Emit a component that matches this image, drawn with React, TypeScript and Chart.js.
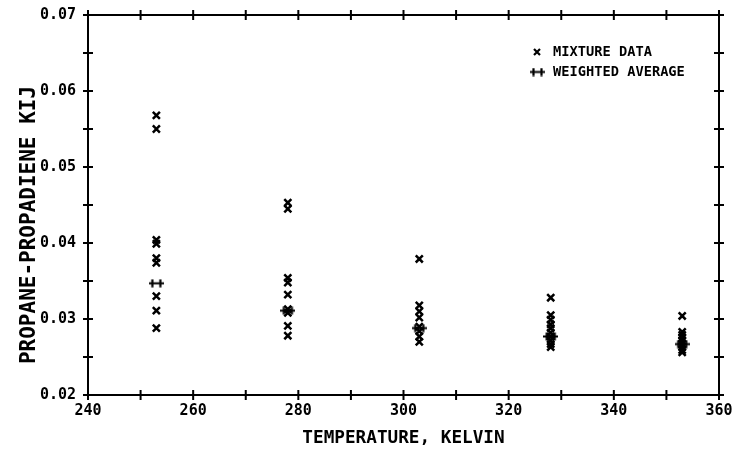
import React, { useEffect, useRef } from "react";
import { Chart, registerables } from "chart.js";

Chart.register(...registerables);

// Temperatures (K) at which the data were taken
const temperatures = [253, 278, 303, 328, 353];

// Mixture-data Kij values for each temperature
const mix253 = [0.0568, 0.055, 0.0404, 0.0399, 0.038, 0.0374, 0.033, 0.0311, 0.0288];
const mix278 = [0.0453, 0.0445, 0.0354, 0.0348, 0.0332, 0.0313, 0.0308, 0.0291, 0.0278];
const mix303 = [0.0379, 0.0318, 0.031, 0.0302, 0.029, 0.0284, 0.0277, 0.027];
const mix328 = [0.0328, 0.0305, 0.0299, 0.0293, 0.0288, 0.0282, 0.0277, 0.0272, 0.0267, 0.0263];
const mix353 = [0.0304, 0.0283, 0.0279, 0.0275, 0.0271, 0.0267, 0.0263, 0.0259, 0.0256];

// Weighted average Kij at each temperature
const weightedAverage = [0.0347, 0.0311, 0.0288, 0.0277, 0.0267];

const xTicks = [240, 260, 280, 300, 320, 340, 360];
const yTicks = [0.02, 0.03, 0.04, 0.05, 0.06, 0.07];

const legendLabels = ["MIXTURE DATA", "WEIGHTED AVERAGE"];
const xTitle = "TEMPERATURE, KELVIN";
const yTitle = "PROPANE-PROPADIENE KIJ";

const FONT = "'DejaVu Sans Mono', monospace";

function makeAvgMarker(): HTMLCanvasElement {
  const c = document.createElement("canvas");
  c.width = 15;
  c.height = 9;
  const g = c.getContext("2d")!;
  g.strokeStyle = "#000";
  g.lineWidth = 2.2;
  g.beginPath();
  g.moveTo(0, 4.5);
  g.lineTo(15, 4.5);
  g.moveTo(3.5, 0.5);
  g.lineTo(3.5, 8.5);
  g.moveTo(11.5, 0.5);
  g.lineTo(11.5, 8.5);
  g.stroke();
  return c;
}

function zeroPadding(s: any) {
  s.paddingTop = 0;
  s.paddingBottom = 0;
  s.paddingLeft = 0;
  s.paddingRight = 0;
}

export default function App() {
  const ref = useRef<HTMLCanvasElement | null>(null);

  useEffect(() => {
    document.body.style.margin = "0";
    const avgMarker = makeAvgMarker();
    const mixLists = [mix253, mix278, mix303, mix328, mix353];
    const mixPoints = temperatures.flatMap((t, i) => mixLists[i].map((v) => ({ x: t, y: v })));
    const avgPoints = temperatures.map((t, i) => ({ x: t, y: weightedAverage[i] }));

    const framePlugin = {
      id: "frame",
      afterDatasetsDraw(chart: any) {
        const { ctx, chartArea, scales } = chart;
        const { left, right, top, bottom } = chartArea;
        ctx.save();
        ctx.strokeStyle = "#000";
        ctx.lineWidth = 2;
        ctx.strokeRect(left, top, right - left, bottom - top);
        ctx.beginPath();
        for (let v = 240; v <= 360; v += 10) {
          const px = scales.x.getPixelForValue(v);
          ctx.moveTo(px, bottom - 5);
          ctx.lineTo(px, bottom + 5);
          ctx.moveTo(px, top - 5);
          ctx.lineTo(px, top + 5);
        }
        for (let k = 0; k <= 10; k++) {
          const v = 0.02 + k * 0.005;
          const py = scales.y.getPixelForValue(v);
          ctx.moveTo(left - 5, py);
          ctx.lineTo(left + 5, py);
          ctx.moveTo(right - 5, py);
          ctx.lineTo(right + 5, py);
        }
        ctx.stroke();

        // legend
        const lx = right - 182;
        const ly1 = top + 37;
        const ly2 = top + 57;
        ctx.lineWidth = 2.2;
        ctx.beginPath();
        ctx.moveTo(lx - 3, ly1 - 3);
        ctx.lineTo(lx + 3, ly1 + 3);
        ctx.moveTo(lx + 3, ly1 - 3);
        ctx.lineTo(lx - 3, ly1 + 3);
        ctx.stroke();
        ctx.drawImage(avgMarker, lx - 7, ly2 - 4.5);
        ctx.fillStyle = "#000";
        ctx.font = "bold 13.7px " + FONT;
        ctx.textBaseline = "middle";
        ctx.textAlign = "left";
        ctx.fillText(legendLabels[0], lx + 16, ly1);
        ctx.fillText(legendLabels[1], lx + 16, ly2);

        // y-axis title
        ctx.translate(30, (top + bottom) / 2 + 20);
        ctx.rotate(-Math.PI / 2);
        ctx.textAlign = "center";
        ctx.font = "bold 21px " + FONT;
        ctx.fillText(yTitle, 0, 0);
        ctx.restore();
      },
    };

    const chart = new Chart(ref.current!, {
      type: "scatter",
      data: {
        datasets: [
          {
            label: legendLabels[0],
            data: mixPoints,
            pointStyle: "crossRot",
            pointRadius: 5,
            borderWidth: 2.5,
            borderColor: "#000",
            backgroundColor: "#000",
          },
          {
            label: legendLabels[1],
            data: avgPoints,
            pointStyle: avgMarker as any,
            pointRadius: 6,
            borderColor: "#000",
            backgroundColor: "#000",
          },
        ],
      },
      options: {
        animation: false,
        responsive: false,
        layout: { padding: { top: 15, right: 13, left: 0, bottom: 0 } },
        plugins: { legend: { display: false }, tooltip: { enabled: false } },
        scales: {
          x: {
            type: "linear",
            min: 240,
            max: 360,
            afterBuildTicks: (s: any) => {
              s.ticks = xTicks.map((v) => ({ value: v }));
            },
            afterFit: (s: any) => {
              s.height = 54;
              zeroPadding(s);
            },
            grid: { display: false, drawTicks: false },
            border: { display: false },
            ticks: {
              color: "#000",
              font: { family: FONT, size: 15, weight: "bold" },
              padding: 7,
              maxRotation: 0,
              callback: (v: any) => String(v),
            },
            title: {
              display: true,
              text: xTitle,
              color: "#000",
              font: { family: FONT, size: 17.7, weight: "bold" },
              padding: { top: 0, bottom: 0 },
            },
          },
          y: {
            type: "linear",
            min: 0.02,
            max: 0.07,
            afterBuildTicks: (s: any) => {
              s.ticks = yTicks.map((v) => ({ value: v }));
            },
            afterFit: (s: any) => {
              s.width = 88;
              zeroPadding(s);
            },
            grid: { display: false, drawTicks: false },
            border: { display: false },
            ticks: {
              color: "#000",
              font: { family: FONT, size: 15, weight: "bold" },
              padding: 12,
              callback: (v: any) => Number(v).toFixed(2),
            },
            title: { display: false },
          },
        },
      },
      plugins: [framePlugin],
    });
    return () => chart.destroy();
  }, []);

  return (
    <div style={{ width: 732, height: 449, background: "#fff" }}>
      <canvas ref={ref} width={732} height={449} style={{ display: "block" }} />
    </div>
  );
}
